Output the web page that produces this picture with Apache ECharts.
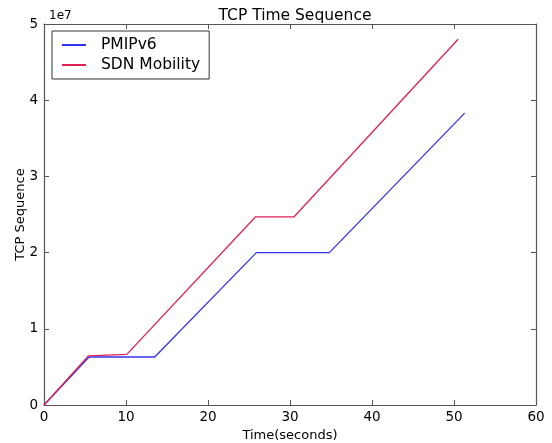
<!DOCTYPE html>
<html>
<head>
<meta charset="utf-8">
<script src="https://cdn.jsdelivr.net/npm/echarts@6/dist/echarts.min.js"></script>
<style>html,body{margin:0;padding:0;background:#fff}#c{width:552px;height:443px}</style>
</head>
<body>
<div id="c"></div>
<script>
const pmipX = [0, 5.5, 13.5, 25.9, 34.8, 51.3];
const pmipY = [0, 6.3e6, 6.3e6, 2.0e7, 2.0e7, 3.83e7];
const sdnX = [0, 5.4, 10.1, 25.8, 30.5, 50.5];
const sdnY = [0, 6.45e6, 6.65e6, 2.47e7, 2.47e7, 4.80e7];
const xTicks = [0, 10, 20, 30, 40, 50, 60];
const yTicks = [0, 1, 2, 3, 4, 5];

const font = 'DejaVu Sans';
const chart = echarts.init(document.getElementById('c'));
const axisLine = {show: true, onZero: false, lineStyle: {color: '#555', width: 1.2}};
const tickIn = {show: true, inside: true, length: 5, lineStyle: {color: '#555'}};
chart.setOption({
  animation: false,
  textStyle: {fontFamily: font},
  title: [
    {text: 'TCP Time Sequence', left: 290, top: 3, textAlign: 'center',
     textStyle: {fontFamily: font, fontSize: 15.5, fontWeight: 'normal', color: '#000'}},
    {text: '1e7', left: 44, top: 5,
     textStyle: {fontFamily: font, fontSize: 12, fontWeight: 'normal', color: '#000'}}
  ],
  legend: {
    orient: 'vertical', left: 52, top: 31, padding: [6, 9, 6, 10],
    borderColor: '#333', borderWidth: 1, itemGap: 4,
    itemWidth: 24, itemHeight: 2, icon: 'rect', itemStyle: {borderWidth: 0},
    textStyle: {fontFamily: font, fontSize: 15.5, color: '#000', padding: [0, 0, 0, 10]},
    data: ['PMIPv6', 'SDN Mobility']
  },
  grid: {left: 44, right: 16, top: 24, bottom: 38, containLabel: false, outerBoundsMode: 'none'},
  xAxis: [
    {type: 'value', min: 0, max: 60, interval: 10,
     name: 'Time(seconds)', nameLocation: 'middle', nameGap: 21,
     nameTextStyle: {fontFamily: font, fontSize: 13, color: '#000'},
     axisLine: axisLine, axisTick: tickIn, splitLine: {show: false},
     axisLabel: {fontFamily: font, fontSize: 13.5, color: '#000', margin: 5,
       formatter: v => xTicks.includes(v) ? String(v) : ''}},
    {type: 'value', position: 'top', min: 0, max: 60, interval: 10,
     axisLine: axisLine, axisTick: tickIn, axisLabel: {show: false}, splitLine: {show: false}}
  ],
  yAxis: [
    {type: 'value', min: 0, max: 5e7, interval: 1e7,
     name: 'TCP Sequence', nameLocation: 'middle', nameGap: 17, nameRotate: 90,
     nameMoveOverlap: false,
     nameTextStyle: {fontFamily: font, fontSize: 13, color: '#000'},
     axisLine: axisLine, axisTick: tickIn, splitLine: {show: false},
     axisLabel: {fontFamily: font, fontSize: 13.5, color: '#000', margin: 6,
       formatter: v => String(yTicks[Math.round(v / 1e7)])}},
    {type: 'value', position: 'right', min: 0, max: 5e7, interval: 1e7,
     axisLine: axisLine, axisTick: tickIn, axisLabel: {show: false}, splitLine: {show: false}}
  ],
  series: [
    {name: 'PMIPv6', type: 'line', symbol: 'none', color: '#3333ee',
     lineStyle: {width: 1.3, color: '#3333ee'},
     data: pmipX.map((x, i) => [x, pmipY[i]])},
    {name: 'SDN Mobility', type: 'line', symbol: 'none', color: '#dd2255',
     lineStyle: {width: 1.3, color: '#dd2255'},
     data: sdnX.map((x, i) => [x, sdnY[i]])}
  ]
});
</script>
</body>
</html>
